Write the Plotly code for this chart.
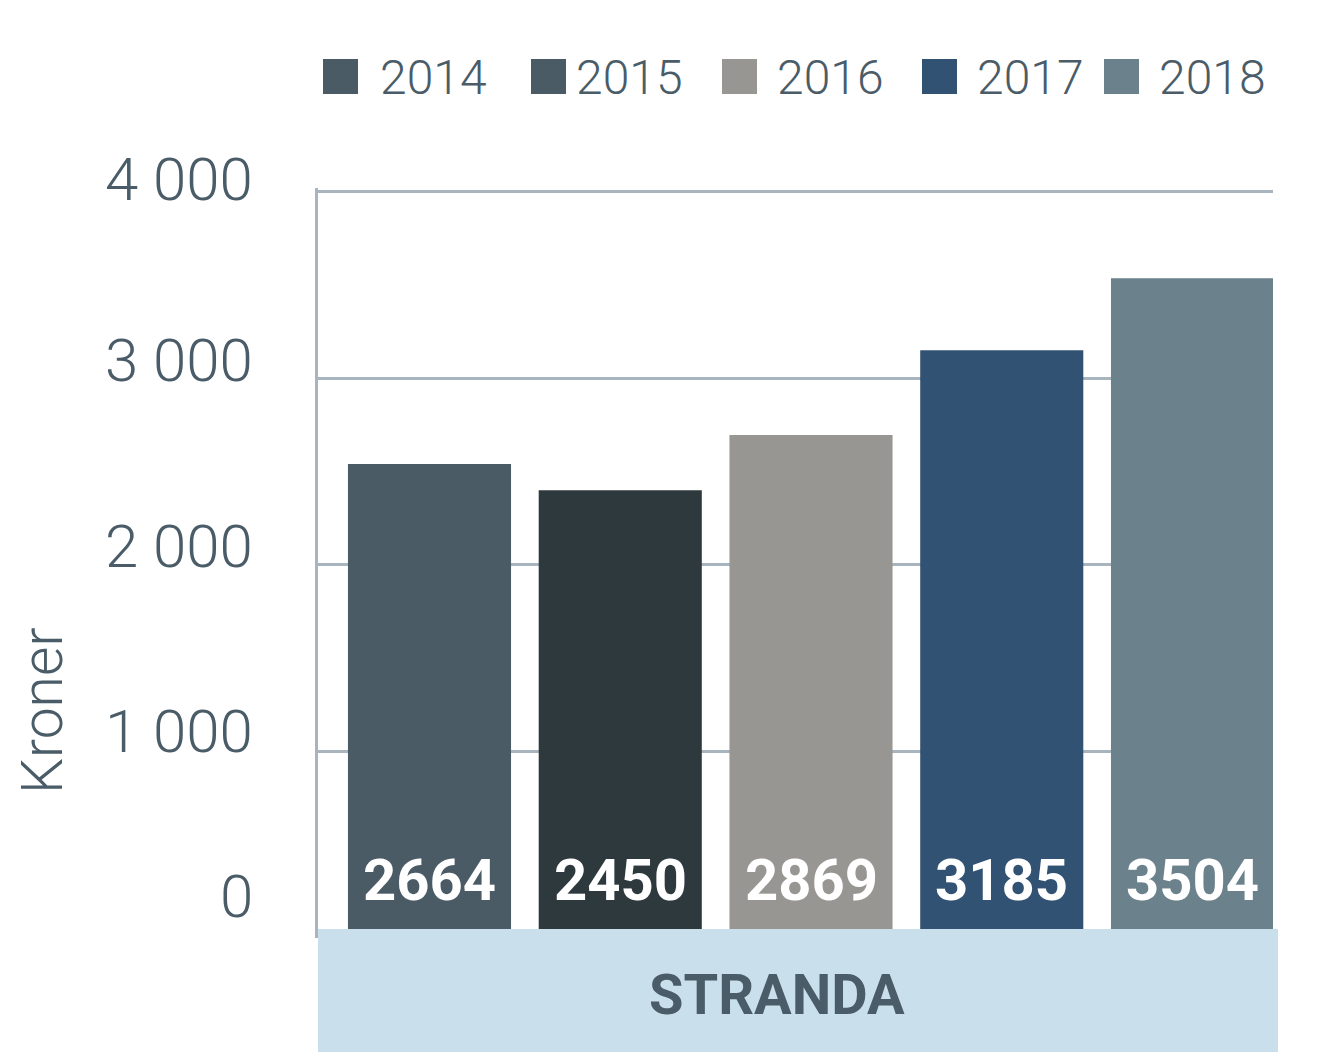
import plotly.graph_objects as go

years = [2014, 2015, 2016, 2017, 2018]
# bar heights as they are drawn against the y axis
bar_heights = [2540, 2400, 2695, 3150, 3535]
# numbers printed inside the bars
bar_labels = ['2664', '2450', '2869', '3185', '3504']
bar_colors = ['#4b5b66', '#2e393e', '#979692', '#325274', '#6b818c']
legend_colors = ['#4b5b66', '#4b5b66', '#979692', '#325274', '#6b818c']
tick_vals = [0, 1000, 2000, 3000, 4000]
tick_text = ['0', '1 000', '2 000', '3 000', '4 000']
category = 'STRANDA'
axis_title = 'Kroner'

TXT = '#4a5c68'
GRID = '#a8b5be'
FONT = 'Roboto'

# plot area on the page in pixels: x 318..1273, y 188..938
# (page has an 8px body margin, so the figure margins are 8px smaller)
def px(x):
    return (x - 318) / 955

def py(y):
    return (938 - y) / 750


fig = go.Figure()
fig.add_trace(go.Bar(x=years, y=bar_heights, marker_color=bar_colors,
                     marker_line_width=0, width=0.855, showlegend=False,
                     hoverinfo='skip'))

fig.update_layout(width=1326, height=1052,
                  margin=dict(l=310, r=61, t=180, b=122),
                  plot_bgcolor='white', paper_bgcolor='white',
                  font=dict(family=FONT, color=TXT))

fig.update_xaxes(range=[2013.4155, 2018.422], showgrid=False, zeroline=False,
                 showticklabels=False, ticks='')
fig.update_yaxes(range=[0, 4019], tickvals=tick_vals, showticklabels=False,
                 showgrid=True, gridcolor=GRID, gridwidth=3, zeroline=False,
                 showline=True, linecolor=GRID, linewidth=3, ticks='')

# band with category name under the bars
fig.add_shape(type='rect', xref='paper', yref='paper',
              x0=0, x1=px(1278), y0=py(1070), y1=py(929),
              fillcolor='#c9dfec', line_width=0, layer='above')
fig.add_annotation(text=category, xref='paper', yref='paper',
                   x=px(777), y=py(995), xanchor='center', yanchor='middle',
                   showarrow=False,
                   font=dict(size=56, weight='bold', color=TXT))

# y tick labels (sit a bit above their grid lines, the 0 more so)
label_lift = {0: 42, 1000: 20, 2000: 18, 3000: 18, 4000: 12}
for v, t in zip(tick_vals, tick_text):
    fig.add_annotation(text=t, xref='paper', yref='y', x=0, y=v,
                       xanchor='right', yanchor='middle', xshift=-63,
                       yshift=label_lift[v], showarrow=False,
                       font=dict(size=60, weight=300, color=TXT))

fig.add_annotation(text=axis_title, xref='paper', yref='paper',
                   x=px(42), y=py(711), xanchor='center', yanchor='middle',
                   textangle=-90, showarrow=False,
                   font=dict(size=57, weight=300, color=TXT))

# value labels at the foot of each bar
for yr, lab in zip(years, bar_labels):
    fig.add_annotation(text=lab, x=yr, y=0, yshift=58, showarrow=False,
                       yanchor='middle',
                       font=dict(size=58, weight='bold', color='white'))

# legend drawn by hand so the swatches can be big
sq_left = [323, 531, 722, 922, 1104]
txt_left = [378, 574, 775, 975, 1157]
for yr, col, sx, tx in zip(years, legend_colors, sq_left, txt_left):
    fig.add_shape(type='rect', xref='paper', yref='paper',
                  x0=px(sx), x1=px(sx + 35), y0=py(94), y1=py(59),
                  fillcolor=col, line_width=0)
    fig.add_annotation(text=str(yr), xref='paper', yref='paper',
                       x=px(tx), y=py(77), xanchor='left', yanchor='middle',
                       showarrow=False,
                       font=dict(size=48, weight=300, color=TXT))

fig.write_html('out.html')
